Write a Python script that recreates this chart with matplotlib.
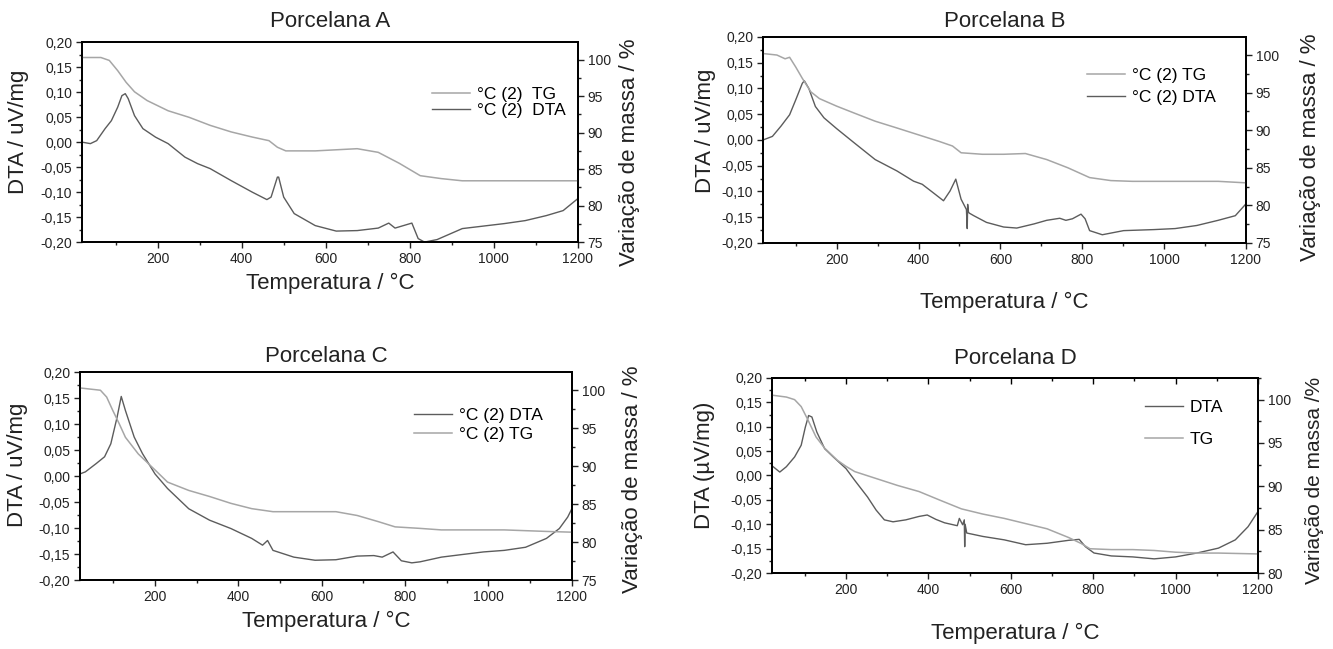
#!/usr/bin/env python3
""" DTA/TG curves of four porcelain samples (A, B, C, D), 2x2 panels. """

import matplotlib
matplotlib.use("Agg")
import matplotlib.pyplot as plt
from matplotlib.ticker import MultipleLocator, FuncFormatter

plt.rcParams['font.family'] = ['Liberation Sans', 'DejaVu Sans']
plt.rcParams['axes.unicode_minus'] = False

# ---- Porcelana A ----
A_TG_T = [20, 65, 85, 105, 125, 145, 175, 225, 275, 325, 375, 425, 465, 485,
          505, 575, 675, 725, 775, 825, 875, 925, 1200]
A_TG = [100.3, 100.3, 99.9, 98.5, 96.9, 95.6, 94.4, 93.0, 92.1, 91.0, 90.1,
        89.4, 88.9, 88.0, 87.5, 87.5, 87.8, 87.3, 85.8, 84.1, 83.7, 83.4, 83.4]
A_DTA_T = [20, 40, 55, 75, 90, 105, 115, 123, 130, 145, 165, 195, 225, 265,
           295, 325, 375, 425, 460, 470, 485, 488, 500, 525, 575, 625, 675,
           725, 750, 765, 785, 805, 820, 835, 865, 925, 975, 1025, 1075, 1125,
           1165, 1200]
A_DTA = [0.0, -0.003, 0.003, 0.027, 0.043, 0.07, 0.093, 0.097, 0.087, 0.053,
         0.027, 0.01, -0.003, -0.03, -0.043, -0.053, -0.077, -0.1, -0.115,
         -0.11, -0.07, -0.07, -0.11, -0.143, -0.167, -0.178, -0.177, -0.172,
         -0.162, -0.172, -0.167, -0.162, -0.193, -0.2, -0.195, -0.173, -0.168,
         -0.163, -0.157, -0.147, -0.137, -0.113]

# ---- Porcelana B ----
B_TG_T = [20, 54, 74, 85, 100, 116, 137, 158, 200, 242, 294, 347, 399, 451,
          483, 504, 556, 608, 661, 713, 765, 818, 870, 922, 1132, 1200]
B_TG = [100.2, 100.0, 99.5, 99.7, 98.4, 96.9, 95.1, 94.2, 93.2, 92.3, 91.2,
        90.3, 89.4, 88.5, 87.9, 87.0, 86.8, 86.8, 86.9, 86.1, 85.0, 83.7,
        83.3, 83.2, 83.2, 83.0]
B_DTA_T = [20, 43, 64, 85, 100, 116, 121, 132, 148, 169, 200, 242, 294, 347,
           388, 409, 440, 461, 477, 491, 504, 517, 519, 520, 522, 524, 535,
           566, 608, 640, 682, 713, 745, 760, 776, 797, 807, 818, 849, 901,
           975, 1027, 1080, 1132, 1174, 1200]
B_DTA = [0.0, 0.007, 0.027, 0.049, 0.078, 0.11, 0.115, 0.1, 0.065, 0.043,
         0.022, -0.005, -0.038, -0.06, -0.08, -0.086, -0.105, -0.118, -0.099,
         -0.076, -0.115, -0.135, -0.172, -0.125, -0.14, -0.142, -0.147, -0.16,
         -0.169, -0.171, -0.163, -0.156, -0.152, -0.156, -0.153, -0.144,
         -0.153, -0.176, -0.184, -0.176, -0.174, -0.172, -0.166, -0.156,
         -0.147, -0.124]

# ---- Porcelana C ----
C_TG_T = [20, 69, 84, 99, 114, 129, 160, 200, 230, 281, 331, 382, 432, 483,
          533, 584, 634, 685, 735, 776, 836, 887, 937, 1038, 1139, 1200]
C_TG = [100.3, 100.0, 99.1, 97.3, 95.6, 93.8, 91.6, 89.5, 87.9, 86.8, 86.0,
        85.1, 84.4, 84.0, 84.0, 84.0, 84.0, 83.5, 82.7, 82.0, 81.8, 81.6,
        81.6, 81.6, 81.4, 81.3]
C_DTA_T = [20, 33, 59, 79, 94, 109, 119, 129, 150, 170, 200, 230, 281, 331,
           382, 432, 458, 470, 483, 533, 584, 634, 685, 725, 745, 771, 791,
           816, 836, 887, 937, 988, 1038, 1089, 1139, 1170, 1190, 1200]
C_DTA = [0.004, 0.008, 0.024, 0.037, 0.062, 0.113, 0.153, 0.126, 0.075,
         0.043, 0.004, -0.024, -0.063, -0.085, -0.101, -0.12, -0.133, -0.124,
         -0.143, -0.156, -0.162, -0.161, -0.154, -0.153, -0.156, -0.146,
         -0.163, -0.167, -0.165, -0.156, -0.151, -0.146, -0.143, -0.137,
         -0.12, -0.101, -0.079, -0.063]

# ---- Porcelana D ----
D_TG_T = [23, 55, 75, 91, 107, 127, 148, 179, 200, 221, 273, 325, 377, 428,
          480, 532, 584, 636, 688, 740, 771, 792, 844, 896, 948, 1000, 1052,
          1104, 1200]
D_TG = [100.5, 100.3, 100.0, 99.2, 97.7, 95.7, 94.4, 93.0, 92.3, 91.7, 90.9,
        90.1, 89.4, 88.4, 87.4, 86.8, 86.3, 85.7, 85.1, 84.1, 83.4, 82.8,
        82.7, 82.7, 82.6, 82.4, 82.3, 82.3, 82.2]
D_DTA_T = [23, 39, 55, 75, 91, 101, 109, 117, 129, 148, 169, 200, 221, 252,
           273, 293, 314, 345, 377, 397, 418, 439, 470, 475, 483, 487, 488,
           489, 493, 532, 584, 636, 688, 740, 766, 781, 802, 844, 896, 948,
           1000, 1052, 1104, 1145, 1176, 1200]
D_DTA = [0.018, 0.007, 0.018, 0.038, 0.062, 0.099, 0.123, 0.12, 0.089,
         0.055, 0.038, 0.014, -0.01, -0.044, -0.071, -0.091, -0.095, -0.091,
         -0.084, -0.081, -0.09, -0.097, -0.103, -0.088, -0.101, -0.091,
         -0.146, -0.1, -0.118, -0.125, -0.132, -0.142, -0.139, -0.133,
         -0.131, -0.146, -0.159, -0.165, -0.167, -0.171, -0.167, -0.159,
         -0.149, -0.132, -0.105, -0.074]

DTA_COLOR = '#5c5c5c'
TG_COLOR = '#a6a6a6'


def comma(v, _):
    if abs(v) < 1e-9:
        v = 0.0
    return f"{v:.2f}".replace('.', ',')


def panel(fig, rect, title, title_pad, dta, tg, tg_lim, ylabel, y2label,
          names, order, leg_xy, leg_space, xlab_y, ylab_xy, y2lab_xy,
          top_ticks=False, y2size=16):
    ax = fig.add_axes(rect)
    ax2 = ax.twinx()
    l_dta, = ax.plot(dta[0], dta[1], color=DTA_COLOR, lw=1.0)
    l_tg, = ax2.plot(tg[0], tg[1], color=TG_COLOR, lw=1.1)

    ax.set_xlim(20, 1200)
    ax.set_ylim(-0.20, 0.20)
    ax2.set_ylim(*tg_lim)

    ax.xaxis.set_major_locator(MultipleLocator(200))
    ax.xaxis.set_minor_locator(MultipleLocator(100))
    ax.yaxis.set_major_locator(MultipleLocator(0.05))
    ax.yaxis.set_minor_locator(MultipleLocator(0.025))
    ax.yaxis.set_major_formatter(FuncFormatter(comma))
    ax2.yaxis.set_major_locator(MultipleLocator(5))
    ax2.yaxis.set_minor_locator(MultipleLocator(2.5))

    for a in (ax, ax2):
        a.tick_params(which='both', direction='out', labelsize=10, width=1,
                      pad=2.5, colors='#222222')
        a.tick_params(which='major', length=4.5)
        a.tick_params(which='minor', length=2.5)
        for s in a.spines.values():
            s.set_linewidth(1.3)

    if top_ticks:
        sec = ax.secondary_xaxis('top')
        sec.xaxis.set_major_locator(MultipleLocator(200))
        sec.xaxis.set_minor_locator(MultipleLocator(100))
        sec.tick_params(which='both', direction='in', labeltop=False, width=1)
        sec.tick_params(which='major', length=4.5)
        sec.tick_params(which='minor', length=2.5)
        sec.spines['top'].set_linewidth(1.3)

    ax.set_title(title, fontsize=16, pad=title_pad, color='#222222')
    ax.set_xlabel('Temperatura / °C', fontsize=16, color='#222222')
    ax.xaxis.label.set_va('center')
    ax.xaxis.set_label_coords(0.5, xlab_y)
    ax.set_ylabel(ylabel, fontsize=16, color='#222222')
    ax.yaxis.label.set_va('center')
    ax.yaxis.set_label_coords(*ylab_xy)
    ax2.set_ylabel(y2label, fontsize=y2size, color='#222222')
    ax2.yaxis.label.set_va('center')
    ax2.yaxis.set_label_coords(*y2lab_xy)

    lines = {'DTA': l_dta, 'TG': l_tg}
    ax2.legend([lines[k] for k in order], names, loc='center left',
               bbox_to_anchor=leg_xy, frameon=False, fontsize=12.5,
               handlelength=2.2, handletextpad=0.4, borderpad=0,
               borderaxespad=0, labelspacing=leg_space)
    return ax


fig = plt.figure(figsize=(13.33, 6.49), dpi=100)

panel(fig, [0.0615, 0.627, 0.372, 0.308], 'Porcelana A', 11,
      (A_DTA_T, A_DTA), (A_TG_T, A_TG), (75, 102.4),
      'DTA / uV/mg', 'Variação de massa / %',
      ['°C (2)  TG', '°C (2)  DTA'], ['TG', 'DTA'], (0.705, 0.697), 0.06,
      -0.205, (-0.129, 0.55), (1.105, 0.45))

panel(fig, [0.5724, 0.6256, 0.3623, 0.3174], 'Porcelana B', 7,
      (B_DTA_T, B_DTA), (B_TG_T, B_TG), (75, 102.4),
      'DTA / uV/mg', 'Variação de massa / %',
      ['°C (2) TG', '°C (2) DTA'], ['TG', 'DTA'], (0.671, 0.76), 0.4,
      -0.291, (-0.12, 0.544), (1.133, 0.466))

panel(fig, [0.060, 0.1063, 0.369, 0.3205], 'Porcelana C', 7,
      (C_DTA_T, C_DTA), (C_TG_T, C_TG), (75, 102.4),
      'DTA / uV/mg', 'Variação de massa / %',
      ['°C (2) DTA', '°C (2) TG'], ['DTA', 'TG'], (0.679, 0.745), 0.23,
      -0.197, (-0.128, 0.553), (1.124, 0.486))

panel(fig, [0.5791, 0.1171, 0.3646, 0.3005], 'Porcelana D', 10,
      (D_DTA_T, D_DTA), (D_TG_T, D_TG), (80, 102.5),
      'DTA (µV/mg)', 'Variação de massa /%',
      ['DTA', 'TG'], ['DTA', 'TG'], (0.767, 0.767), 0.98,
      -0.308, (-0.138, 0.554), (1.117, 0.477), top_ticks=True, y2size=15)

fig.savefig('out.png', dpi=100)
